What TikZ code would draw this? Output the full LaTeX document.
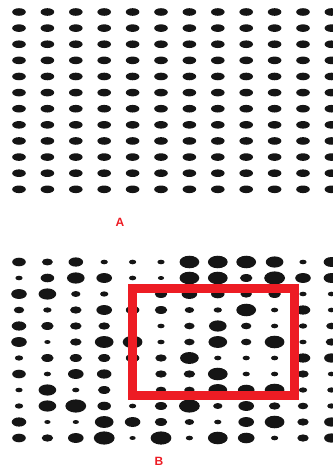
\documentclass[tikz,border=0pt]{standalone}
\usepackage{fontspec}
\setsansfont{Liberation Sans}
\usetikzlibrary{positioning}
\definecolor{markred}{HTML}{ED1C24}
\definecolor{dotblack}{HTML}{151515}

\begin{document}
\begin{tikzpicture}[
  x=1pt, y=-1pt,
  dot/.style={fill=dotblack},
  panellabel/.style={text=markred, font=\sffamily\bfseries\fontsize{12}{12}\selectfont, inner sep=0pt},
  zonebox/.style={draw=markred, line width=9pt}
]
\useasboundingbox (0,0) rectangle (332,470);
\foreach \i in {0,...,11}
  \foreach \j in {0,...,11}
    \fill[dot] (19+28.4*\j, 12+16.12*\i) ellipse [x radius=6.8pt, y radius=3.8pt];
\node[panellabel] (labelA) at (120,222.5) {A};
\foreach \r [count=\i from 0] in {
  {13,10.5,14,7,7,7,19,19,19,17,7,15},
  {7,13,17,15,7,6,19,19,12,20,15,15},
  {15,17,9,8,8,12,15,13,11,12,7,7},
  {10,8,11,15,13,12,9,8,19,7,14,7},
  {14,12,11,11,7,7,10,17,10,7,8,10},
  {15,6,11,18,19,7,10,18,10,19,7,11},
  {8,12,12,12,13,11,18,7,7,7,14,14},
  {13,7,15,14,7,11,11,19,7,7,11,7},
  {7,17,7,12,7,10,10,18,16,19,8,8},
  {8,17,20,13,7,12,20,9,15,11,10,8},
  {14,6,6,18,15,12,9,7,15,19,11,14},
  {13,11,15,20,6,20,7,19,16,7,11,14}}
  \foreach \w [count=\j from 0] in \r
    \fill[dot] (19+28.4*\j, 262+16*\i) ellipse [x radius=\w*0.52pt, y radius=\w*0.33pt];
\draw[zonebox] (132,288) rectangle (294.5,395);
\node[panellabel] (labelB) at (159,461) {B};
\end{tikzpicture}
\end{document}
